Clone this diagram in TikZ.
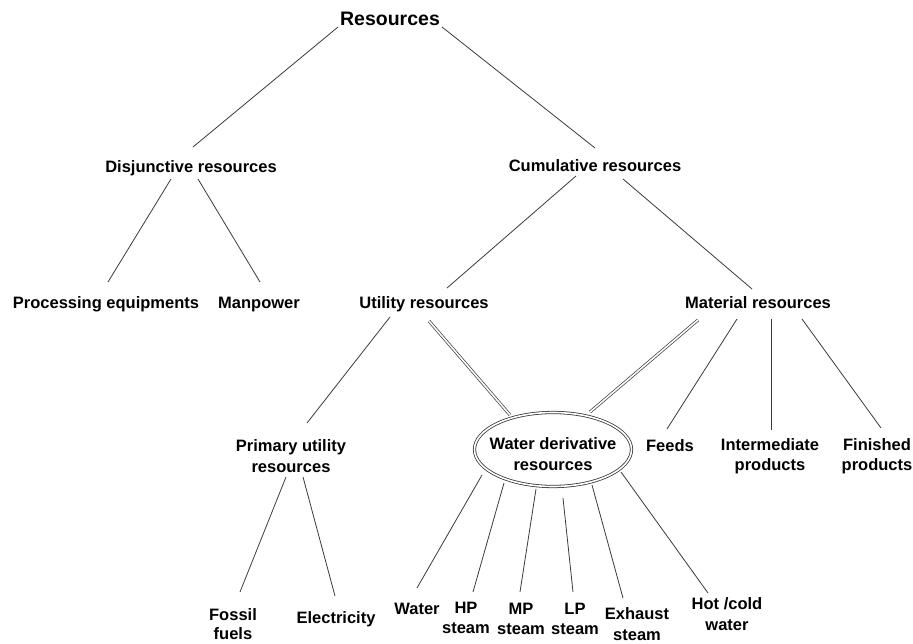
\documentclass[tikz,border=0pt]{standalone}
\usepackage{fontspec}
\setmainfont{Liberation Sans}
\usetikzlibrary{shapes.geometric}
\definecolor{linegray}{HTML}{3A3A3A}
\tikzset{
  lbl/.style={font=\fontsize{16.5}{20.5}\selectfont\bfseries, inner sep=0pt,
              text height=12pt, text depth=3.5pt},
  lbl2/.style={font=\fontsize{16.5}{20.5}\selectfont\bfseries, inner sep=0pt,
               align=center},
  link/.style={draw=linegray, line width=0.8pt},
  dlink/.style={draw=linegray, line width=0.7pt, double=white, double distance=1.6pt},
}
\begin{document}
\begin{tikzpicture}[x=1pt, y=-1pt]
\useasboundingbox (0,0) rectangle (913,644);

% hierarchy labels
\node[inner sep=0pt, font=\fontsize{19.5}{22}\selectfont\bfseries,
      text height=14pt, text depth=0pt] (res) at (390,19) {Resources};
\node[lbl] (dis) at (191,168) {Disjunctive resources};
\node[lbl] (cum) at (595,167) {Cumulative resources};
\node[lbl] (proc) at (106,304) {Processing equipments};
\node[lbl] (man) at (259,304) {Manpower};
\node[lbl] (uti) at (424,304) {Utility resources};
\node[lbl] (mat) at (758,304) {Material resources};
\node[lbl2] (pri) at (291,456) {Primary utility\\resources};
\node[ellipse, draw=linegray, line width=0.8pt, double=white, double distance=1.6pt,
      minimum width=157pt, minimum height=74pt, inner sep=0pt] (wdr) at (553,449.5) {};
\node[lbl2] (wdrtext) at (553,454) {Water derivative\\resources};
\node[lbl] (feeds) at (670,447) {Feeds};
\node[lbl2] (inter) at (770,456) {Intermediate\\products};
\node[lbl2] (fin) at (877,456) {Finished\\products};
\node[lbl2] (fossil) at (233,624) {Fossil\\[-2pt]fuels};
\node[lbl] (elec) at (336,619) {Electricity};
\node[lbl] (water) at (417,610) {Water};
\node[lbl2] (hp) at (466,618) {HP\\steam};
\node[lbl2] (mp) at (521,619) {MP\\steam};
\node[lbl2] (lp) at (575,619) {LP\\steam};
\node[lbl2] (exh) at (637,624) {Exhaust\\steam};
\node[lbl2] (hot) at (727,614) {Hot /cold\\water};

% single connectors
\draw[link] ([shift={(-52,8)}]res.center) -- ([shift={(2,-21)}]dis.center);
\draw[link] ([shift={(52,8)}]res.center) -- ([shift={(0,-19)}]cum.center);
\draw[link] ([shift={(-20,11)}]dis.center) -- ([shift={(2,-22)}]proc.center);
\draw[link] ([shift={(7,11)}]dis.center) -- ([shift={(1,-22)}]man.center);
\draw[link] ([shift={(-19,9)}]cum.center) -- ([shift={(23,-16)}]uti.center);
\draw[link] ([shift={(28,12)}]cum.center) -- ([shift={(-6,-15)}]mat.center);
\draw[link] ([shift={(-34,13)}]uti.center) -- ([shift={(16,-33)}]pri.center);
\draw[link] ([shift={(-21,15)}]mat.center) -- ([shift={(-3,-18)}]feeds.center);
\draw[link] ([shift={(13,15)}]mat.center) -- ([shift={(1,-26)}]inter.center);
\draw[link] ([shift={(44,15)}]mat.center) -- ([shift={(4,-28)}]fin.center);
\draw[link] ([shift={(-5,21)}]pri.center) -- ([shift={(7,-32)}]fossil.center);
\draw[link] ([shift={(12,21)}]pri.center) -- ([shift={(-1,-23)}]elec.center);
\draw[link] ([shift={(-71,25.5)}]wdr.center) -- ([shift={(0,-22)}]water.center);
\draw[link] ([shift={(-49,33.5)}]wdr.center) -- ([shift={(7,-26)}]hp.center);
\draw[link] ([shift={(-17,39.5)}]wdr.center) -- ([shift={(-1,-27)}]mp.center);
\draw[link] ([shift={(10,48.5)}]wdr.center) -- ([shift={(-2,-27)}]lp.center);
\draw[link] ([shift={(39,35.5)}]wdr.center) -- ([shift={(-14,-26)}]exh.center);
\draw[link] ([shift={(68,22.5)}]wdr.center) -- ([shift={(-19,-21)}]hot.center);

% double connectors into the water derivative ellipse
\draw[dlink] ([shift={(5,17)}]uti.center) -- ([shift={(-43,-34.5)}]wdr.center);
\draw[dlink] ([shift={(-60,16)}]mat.center) -- ([shift={(37,-37.5)}]wdr.center);
\end{tikzpicture}
\end{document}
